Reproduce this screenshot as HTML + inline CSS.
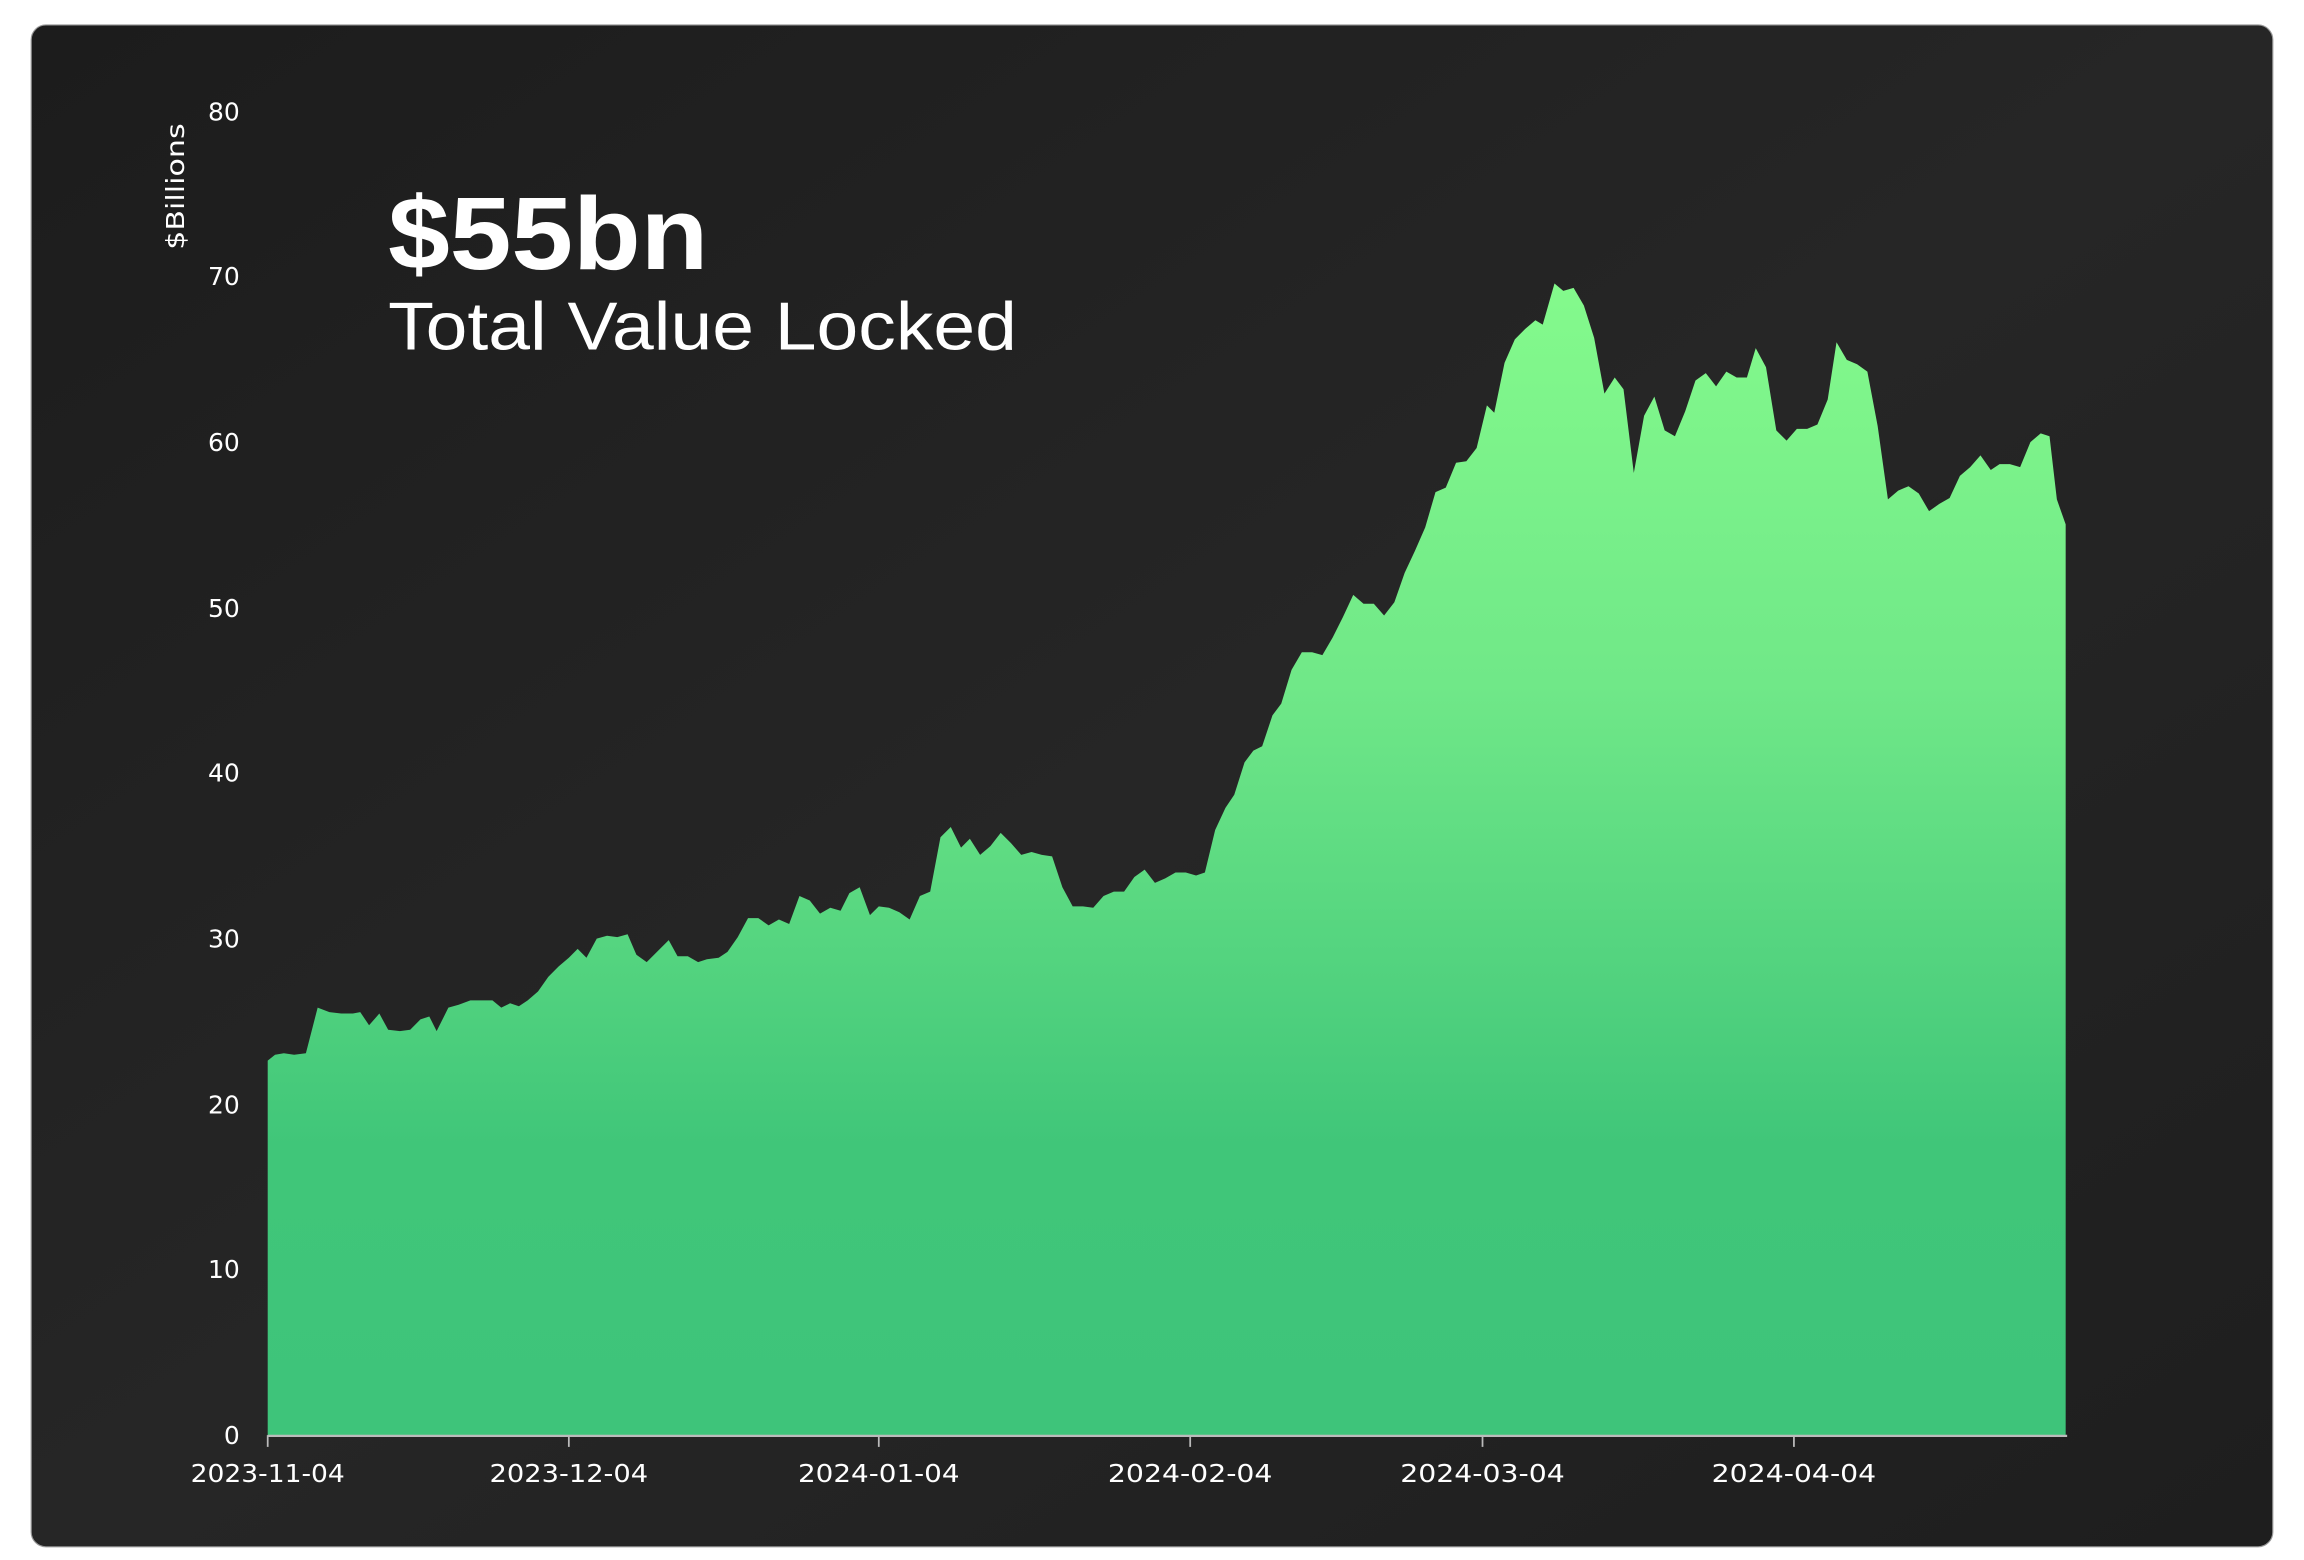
<!DOCTYPE html>
<html><head><meta charset="utf-8"><style>
html,body{margin:0;padding:0;background:#fff;width:2304px;height:1560px;overflow:hidden}
svg{display:block}
</style></head><body>
<svg width="2304" height="1560" viewBox="0 0 1568 1062" xmlns="http://www.w3.org/2000/svg">
<defs>
<linearGradient id="bg" x1="0" y1="0" x2="1" y2="1">
<stop offset="0" stop-color="#1c1c1c"/><stop offset="0.5" stop-color="#262626"/><stop offset="1" stop-color="#1e1e1e"/>
</linearGradient>
<linearGradient id="g" x1="0" y1="190" x2="0" y2="977" gradientUnits="userSpaceOnUse">
<stop offset="0" stop-color="#84fa8c"/><stop offset="0.35" stop-color="#70e888"/><stop offset="0.75" stop-color="#40c679"/><stop offset="1" stop-color="#3ec47a"/>
</linearGradient>
</defs>
<rect x="21" y="17" width="1526" height="1036" rx="10" fill="url(#bg)" stroke="#999" stroke-width="0.8"/>
<polygon fill="url(#g)" points="182,977 182,722 187,718 193,717 200,718 208,717 216,686 224,689 232,690 240,690 245,689 251,698 258,690 264,701 272,702 279,701 286,694 292,692 297,702 305,686 312,684 320,681 328,681 335,681 341,686 347,683 353,685 359,681 366,675 373,665 380,658 387,652 393,646 399,652 406,639 413,637 420,638 427,636 433,650 440,655 447,648 455,640 461,651 468,651 475,655 481,653 489,652 495,648 502,638 509,625 516,625 523,630 530,626 537,629 544,610 551,613 558,622 565,618 572,620 578,608 585,604 592,623 598,617 605,618 612,621 619,626 626,610 633,607 640,570 647,563 654,577 660,571 667,582 674,576 681,567 688,574 695,582 702,580 709,582 716,583 723,604 730,617 737,617 744,618 751,610 758,607 765,607 772,597 779,592 786,601 793,598 800,594 807,594 814,596 820,594 827,565 834,550 840,541 847,519 853,511 859,508 866,487 872,479 879,456 886,444 893,444 900,446 907,434 914,420 921,405 928,411 935,411 942,419 949,410 956,390 963,375 970,359 977,335 984,332 991,315 998,314 1005,305 1012,276 1017,281 1024,247 1031,231 1038,224 1045,218 1050,221 1058,193 1064,198 1071,196 1078,208 1085,230 1092,268 1099,257 1105,265 1112,322 1119,283 1126,270 1133,293 1140,297 1147,280 1154,259 1161,254 1168,263 1175,253 1182,257 1189,257 1195,237 1202,250 1209,293 1216,300 1223,292 1230,292 1237,289 1244,272 1250,233 1257,245 1264,248 1271,253 1278,290 1285,340 1292,334 1299,331 1306,336 1313,348 1320,343 1327,339 1334,324 1341,318 1348,310 1355,320 1361,316 1368,316 1375,318 1382,301 1389,295 1395,297 1400,340 1406,357 1406,977"/>
<line x1="182" y1="977.5" x2="1407" y2="977.5" stroke="#bbb" stroke-width="1.5"/>
<g stroke="#bbb" stroke-width="1.2">
<line x1="182" y1="977" x2="182" y2="985"/><line x1="387" y1="977" x2="387" y2="985"/><line x1="598" y1="977" x2="598" y2="985"/><line x1="810" y1="977" x2="810" y2="985"/><line x1="1009" y1="977" x2="1009" y2="985"/><line x1="1221" y1="977" x2="1221" y2="985"/>
</g>
<g font-family="DejaVu Sans, sans-serif" font-size="17" fill="#fff" text-anchor="middle">
<text x="182" y="1009" textLength="105" lengthAdjust="spacingAndGlyphs">2023-11-04</text><text x="387" y="1009" textLength="108" lengthAdjust="spacingAndGlyphs">2023-12-04</text><text x="598" y="1009" textLength="110" lengthAdjust="spacingAndGlyphs">2024-01-04</text><text x="810" y="1009" textLength="112" lengthAdjust="spacingAndGlyphs">2024-02-04</text><text x="1009" y="1009" textLength="112" lengthAdjust="spacingAndGlyphs">2024-03-04</text><text x="1221" y="1009" textLength="112" lengthAdjust="spacingAndGlyphs">2024-04-04</text>
</g>
<g font-family="DejaVu Sans, sans-serif" font-size="17" fill="#fff" text-anchor="end">
<text x="163" y="983">0</text><text x="163" y="870">10</text><text x="163" y="758">20</text><text x="163" y="645">30</text><text x="163" y="532">40</text><text x="163" y="420">50</text><text x="163" y="307">60</text><text x="163" y="194">70</text><text x="163" y="82">80</text>
</g>
<text transform="translate(125,127) rotate(-90)" text-anchor="middle" font-family="DejaVu Sans, sans-serif" font-size="17" fill="#fff" textLength="86" lengthAdjust="spacingAndGlyphs">$Billions</text>
<text x="264" y="183" font-family="Liberation Sans, sans-serif" font-size="70" font-weight="bold" fill="#fff" textLength="218" lengthAdjust="spacingAndGlyphs">$55bn</text>
<text x="264" y="238" font-family="Liberation Sans, sans-serif" font-size="46" fill="#fff" textLength="428" lengthAdjust="spacingAndGlyphs">Total Value Locked</text>
</svg>
</body></html>
